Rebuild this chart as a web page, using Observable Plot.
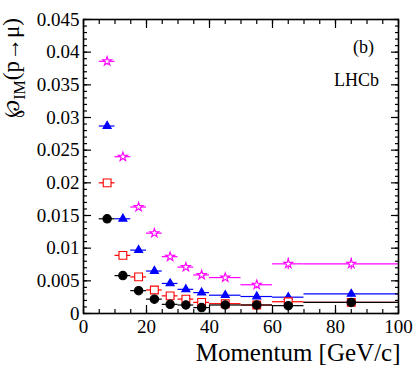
<!DOCTYPE html>
<html>
<head>
<meta charset="utf-8">
<script src="https://cdn.jsdelivr.net/npm/d3@7"></script>
<script src="https://cdn.jsdelivr.net/npm/@observablehq/plot@0.6"></script>
<style>
  html, body { margin: 0; padding: 0; background: #fff; }
  #chart svg { display: block; font-family: "Liberation Serif", serif; }
  #chart svg text { font-family: "Liberation Serif", "Times New Roman", serif !important; }
</style>
</head>
<body>
<div id="chart"></div>
<script>
// Momentum bins [GeV/c]
const momentum = [7.5, 12.5, 17.5, 22.5, 27.5, 32.5, 37.5, 45, 55, 65, 85];
const binLow   = [5, 10, 15, 20, 25, 30, 35, 40, 50, 60, 70];
const binHigh  = [10, 15, 20, 25, 30, 35, 40, 50, 60, 70, 100];

// Misidentification probabilities for the four selections
const starVals   = [0.0386, 0.0240, 0.0163, 0.0123, 0.0087, 0.0071, 0.0059, 0.0055, 0.0044, 0.0076, 0.0076];
const starErr    = [0.0006, 0.0004, 0.0004, 0.0003, 0.0003, 0.0003, 0.0003, 0.0003, 0.0006, 0.0009, 0.0009];
const triVals    = [0.0287, 0.0145, 0.0097, 0.0065, 0.0046, 0.0037, 0.0032, 0.0028, 0.0026, 0.0025, 0.0030];
const squareVals = [0.0200, 0.0089, 0.0056, 0.0036, 0.0027, 0.0022, 0.0017, 0.0015, 0.0013, 0.0018, 0.0017];
const circleVals = [0.0145, 0.0058, 0.0035, 0.0022, 0.0014, 0.0013, 0.0009, 0.0013, 0.0013, 0.0012, 0.0017];

// Tick values and labels
const xMajor = [0, 20, 40, 60, 80, 100];
const xMinor = [0, 5, 10, 15, 20, 25, 30, 35, 40, 45, 50, 55, 60, 65, 70, 75, 80, 85, 90, 95, 100];
const yMajor = [0, 0.005, 0.01, 0.015, 0.02, 0.025, 0.03, 0.035, 0.04, 0.045];
const yMajorLabels = ["0", "0.005", "0.01", "0.015", "0.02", "0.025", "0.03", "0.035", "0.04", "0.045"];
const yMinor = d3.range(0, 46).map(i => i / 1000);

const series = [
  {name: "star",   vals: starVals,   err: starErr, color: "#ff00ff", symbol: "star",     fill: "white", r: 2.8},
  {name: "tri",    vals: triVals,    err: null,    color: "#0000ff", symbol: "triangle", fill: "#0000ff", r: 3.0},
  {name: "square", vals: squareVals, err: null,    color: "#ff0000", symbol: "square",   fill: "white", r: 4.4},
  {name: "circle", vals: circleVals, err: null,    color: "#000000", symbol: "circle",   fill: "#000000", r: 4.2}
];

const rows = series.flatMap(s => momentum.map((p, i) => ({
  series: s.name, p, lo: binLow[i], hi: binHigh[i], v: s.vals[i],
  e: s.err ? s.err[i] : 0
})));

const font = "Liberation Serif, Times New Roman, serif";
const noText = () => "";

const marks = [];
for (const s of series) {
  const d = rows.filter(r => r.series === s.name);
  marks.push(Plot.ruleY(d, {y: "v", x1: "lo", x2: "hi", stroke: s.color, strokeWidth: 1.2}));
  if (s.err) {
    marks.push(Plot.ruleX(d, {x: "p", y1: r => r.v - r.e, y2: r => r.v + r.e,
      stroke: s.color, strokeWidth: 1.2}));
  }
}
for (const s of series) {
  const d = rows.filter(r => r.series === s.name);
  marks.push(Plot.dot(d, {x: "p", y: "v", symbol: () => s.symbol, r: s.r,
    fill: s.fill, stroke: s.color, strokeWidth: 1.1}));
}

const tickOpts = {label: null, tickFormat: noText, strokeWidth: 1.2};

const chart = Plot.plot({
  width: 415,
  height: 374,
  marginLeft: 83,
  marginRight: 17,
  marginTop: 19,
  marginBottom: 61,
  style: {fontFamily: font, fontSize: "19px", color: "black", background: "white"},
  x: {domain: [0, 100], axis: null},
  y: {domain: [0, 0.045], axis: null},
  symbol: {type: "identity"},
  marks: [
    ...marks,
    Plot.frame({stroke: "black", strokeWidth: 1.6}),
    // inward ticks, left
    Plot.axisY({...tickOpts, anchor: "left", ticks: yMinor, tickSize: 4, dx: 4}),
    Plot.axisY({...tickOpts, anchor: "left", ticks: yMajor, tickSize: 8, dx: 8}),
    // right
    Plot.axisY({...tickOpts, anchor: "right", ticks: yMinor, tickSize: 4, dx: -4}),
    Plot.axisY({...tickOpts, anchor: "right", ticks: yMajor, tickSize: 8, dx: -8}),
    // bottom
    Plot.axisX({...tickOpts, anchor: "bottom", ticks: xMinor, tickSize: 4, dy: -4}),
    Plot.axisX({...tickOpts, anchor: "bottom", ticks: xMajor, tickSize: 8, dy: -8}),
    // top
    Plot.axisX({...tickOpts, anchor: "top", ticks: xMinor, tickSize: 4, dy: 4}),
    Plot.axisX({...tickOpts, anchor: "top", ticks: xMajor, tickSize: 8, dy: 8}),
    // labels
    Plot.axisY({anchor: "left", ticks: yMajor, tickSize: 0, tickPadding: 4, label: null,
      tickFormat: d => yMajorLabels[yMajor.indexOf(d)], fontSize: 19, fontFamily: font}),
    Plot.axisX({anchor: "bottom", ticks: xMajor, tickSize: 0, tickPadding: 6, label: null,
      tickFormat: d => String(d), fontSize: 19, fontFamily: font}),
    Plot.text(["Momentum [GeV/c]"], {frameAnchor: "bottom-right", text: d => d,
      textAnchor: "end", dy: 47, dx: 2, fontSize: 25, fontFamily: font}),
    Plot.text(["(b)"], {frameAnchor: "top-right", text: d => d, textAnchor: "middle",
      dx: -35, dy: 21, fontSize: 18, fontFamily: font}),
    Plot.text(["LHCb"], {frameAnchor: "top-right", text: d => d, textAnchor: "middle",
      dx: -42, dy: 54, fontSize: 18, fontFamily: font})
  ]
});

// y-axis title with subscript
const svg = d3.select(chart);
const yt = svg.append("text")
  .attr("transform", "translate(19,18) rotate(-90)")
  .attr("text-anchor", "end")
  .attr("font-family", font)
  .attr("font-size", 23)
  .attr("fill", "black");
yt.append("tspan").attr("font-size", 22).attr("font-family", "DejaVu Serif, serif").text("℘");
yt.append("tspan").attr("font-size", 16).attr("dy", 6).text("IM");
yt.append("tspan").attr("dy", -6).text("(p→μ)");

document.getElementById("chart").appendChild(chart);
</script>
</body>
</html>
